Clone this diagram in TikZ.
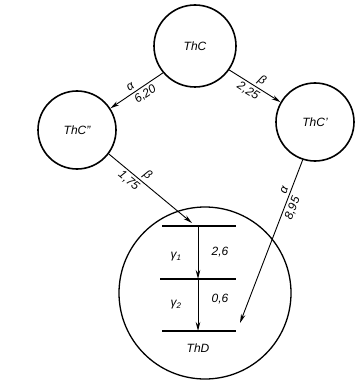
\documentclass[tikz,border=0pt]{standalone}
\usepackage{fontspec}
\setmainfont{Liberation Sans}
\usepackage{tikz}
\usetikzlibrary{arrows.meta, positioning}

\begin{document}
\begin{tikzpicture}[
    x=1pt, y=-1pt,
    nucl/.style={circle, draw=black, line width=1.6pt, inner sep=0pt, font=\fontsize{12}{14}\selectfont\itshape},
    decay/.style={line width=0.9pt, -{Stealth[length=9pt, width=4.5pt]}},
    level/.style={line width=2pt},
    txt/.style={font=\fontsize{12}{14}\selectfont\itshape},
    lbl/.style={txt, sloped, inner sep=2.5pt}
]
\useasboundingbox (0,0) rectangle (355,382);

% Parent and daughters
\node[nucl, minimum size=82pt] (thc) at (195,46) {ThC};
\node[nucl, minimum size=78pt] (thcpp) at (77,130) {ThC''};
\node[nucl, minimum size=78pt] (thcp) at (315,122) {ThC'};

% ThD with its levels
\node[nucl, line width=1.3pt, minimum size=172pt] (thd) at (205,293) {};
\coordinate (lv1) at (198,226);
\coordinate (lv2) at (198,279);
\coordinate (lv3) at (198,331);
\draw[level] ([xshift=-36pt]lv1) -- ([xshift=38pt]lv1);
\draw[level] ([xshift=-38pt]lv2) -- ([xshift=38pt]lv2);
\draw[level] ([xshift=-36pt]lv3) -- ([xshift=38pt]lv3);
\draw[decay] (lv1) -- (lv2);
\draw[decay] (lv2) -- (lv3);
\node[txt] (g1) at (176,257) {γ\textsubscript{1}};
\node[txt] (e1) at (220,252) {2,6};
\node[txt] (g2) at (176,305) {γ\textsubscript{2}};
\node[txt] (e2) at (220,299) {0,6};
\node[txt] (thdname) at (198,348) {ThD};
\coordinate (in1) at (192,223);
\coordinate (in2) at (240,323);

% Decays
\draw[decay] (thc.220) -- (thcpp.33)
    node[lbl, pos=0.55, above] {α} node[lbl, pos=0.42, below] {6,20};
\draw[decay] (thc.325) -- (thcp.150)
    node[lbl, pos=0.55, above] {β} node[lbl, pos=0.45, below] {2,25};
\draw[decay] (thcpp.323) -- (in1)
    node[lbl, pos=0.4, above] {β} node[lbl, pos=0.3, below] {1,75};
\draw[decay] (thcp.252) -- (in2)
    node[lbl, pos=0.2, above] {α} node[lbl, pos=0.28, below] {8,95};

\end{tikzpicture}
\end{document}
